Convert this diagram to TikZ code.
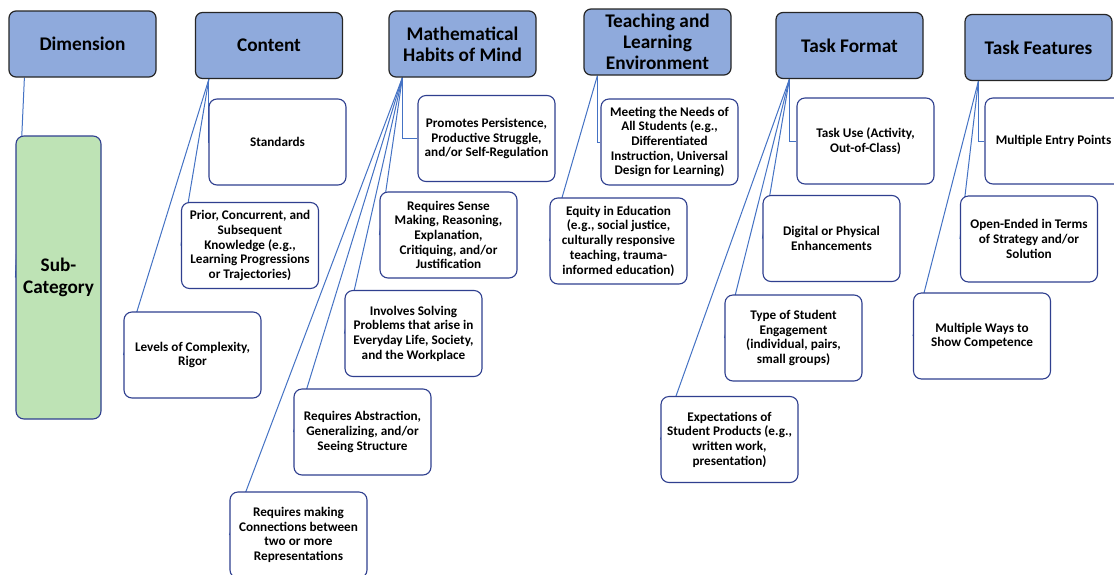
\documentclass[tikz,border=0pt]{standalone}
\usepackage{fontspec}
\setmainfont{Carlito}
\usetikzlibrary{backgrounds,calc}
\definecolor{topfill}{HTML}{8FAADC}
\definecolor{topdraw}{HTML}{262626}
\definecolor{subfill}{HTML}{BEE3B5}
\definecolor{boxdraw}{HTML}{2F3F8F}
\definecolor{linkc}{HTML}{4472C4}
\begin{document}
\begin{tikzpicture}[x=1pt,y=-1pt,
  topbox/.style={draw=topdraw, fill=topfill, line width=1.2pt, rounded corners=7pt,
    minimum width=147pt, minimum height=66pt, align=center, inner sep=0pt,
    font=\fontsize{19.3}{21}\selectfont\bfseries},
  subbox/.style={draw=boxdraw, fill=subfill, line width=1.1pt, rounded corners=8pt,
    minimum width=85pt, minimum height=283pt, align=center, inner sep=0pt,
    font=\fontsize{19.2}{21.5}\selectfont\bfseries},
  leaf/.style={draw=boxdraw, fill=white, line width=1.1pt, rounded corners=8pt,
    minimum width=137pt, minimum height=86pt, align=center, inner sep=0pt,
    font=\fontsize{13.2}{14.7}\selectfont\bfseries},
  link/.style={draw=linkc, line width=1pt}]
\useasboundingbox (0,0) rectangle (1114,574);
\clip (0,0) rectangle (1114,574);
% top row
\node[topbox] (dim) at (82.5,44) {Dimension};
\node[topbox] (cont) at (269,45.5) {Content};
\node[topbox] (mhm) at (462.5,44) {Mathematical\\Habits of Mind};
\node[topbox] (tle) at (657.5,42) {Teaching and\\Learning\\Environment};
\node[topbox] (tfo) at (849.5,45.5) {Task Format};
\node[topbox] (tfe) at (1038.5,47.5) {Task Features};
% sub-category
\node[subbox] (sub) at (58.5,277.5) {Sub-\\Category};
% content
\node[leaf] (std) at (277.5,142) {Standards};
\node[leaf] (pri) at (250,245.5) {Prior, Concurrent, and\\Subsequent\\Knowledge (e.g.,\\Learning Progressions\\or Trajectories)};
\node[leaf] (lev) at (192.5,355) {Levels of Complexity,\\Rigor};
% habits
\node[leaf] (pro) at (486.5,138.5) {Promotes Persistence,\\Productive Struggle,\\and/or Self-Regulation};
\node[leaf] (sen) at (448.5,235) {Requires Sense\\Making, Reasoning,\\Explanation,\\Critiquing, and/or\\Justification};
\node[leaf] (inv) at (413.5,333.5) {Involves Solving\\Problems that arise in\\Everyday Life, Society,\\and the Workplace};
\node[leaf] (abs) at (362.5,432) {Requires Abstraction,\\Generalizing, and/or\\Seeing Structure};
\node[leaf] (rep) at (298.5,535) {Requires making\\Connections between\\two or more\\Representations};
% teaching
\node[leaf] (mee) at (669.5,142) {Meeting the Needs of\\All Students (e.g.,\\Differentiated\\Instruction, Universal\\Design for Learning)};
\node[leaf] (equ) at (618.5,241) {Equity in Education\\(e.g., social justice,\\culturally responsive\\teaching, trauma-\\informed education)};
% task format
\node[leaf] (use) at (865.5,141) {Task Use (Activity,\\Out-of-Class)};
\node[leaf] (dig) at (831.5,238.5) {Digital or Physical\\Enhancements};
\node[leaf] (typ) at (793.5,338) {Type of Student\\Engagement\\(individual, pairs,\\small groups)};
\node[leaf] (exp) at (729.5,439.5) {Expectations of\\Student Products (e.g.,\\written work,\\presentation)};
% task features
\node[leaf] (mep) at (1053.5,141) {Multiple Entry Points};
\node[leaf] (ope) at (1029,239) {Open-Ended in Terms\\of Strategy and/or\\Solution};
\node[leaf] (mwa) at (982,336) {Multiple Ways to\\Show Competence};
% anchors
\coordinate (dimA) at ($(dim.south west)+(16,0)$);
\coordinate (contA) at ($(cont.south west)+(14,0)$);
\coordinate (mhmA) at ($(mhm.south west)+(14,0)$);
\coordinate (tleA) at ($(tle.south west)+(14,0)$);
\coordinate (tfoA) at ($(tfo.south west)+(14,0)$);
\coordinate (tfeA) at ($(tfe.south west)+(14,0)$);
\begin{scope}[on background layer]
\fill[white] (0,0) rectangle (1114,574);
\draw[link] (dimA) -- (sub.west);
\draw[link] (contA) |- (std.west);
\draw[link] (contA) -- (pri.west);
\draw[link] (contA) -- (lev.west);
\draw[link] (mhmA) |- (pro.west);
\draw[link] (mhmA) -- (sen.west);
\draw[link] (mhmA) -- (inv.west);
\draw[link] (mhmA) -- (abs.west);
\draw[link] (mhmA) -- (rep.west);
\draw[link] (tleA) |- (mee.west);
\draw[link] (tleA) -- (equ.west);
\draw[link] (tfoA) |- (use.west);
\draw[link] (tfoA) -- (dig.west);
\draw[link] (tfoA) -- (typ.west);
\draw[link] (tfoA) -- (exp.west);
\draw[link] (tfeA) |- (mep.west);
\draw[link] (tfeA) -- (ope.west);
\draw[link] (tfeA) -- (mwa.west);
\end{scope}
\end{tikzpicture}
\end{document}
